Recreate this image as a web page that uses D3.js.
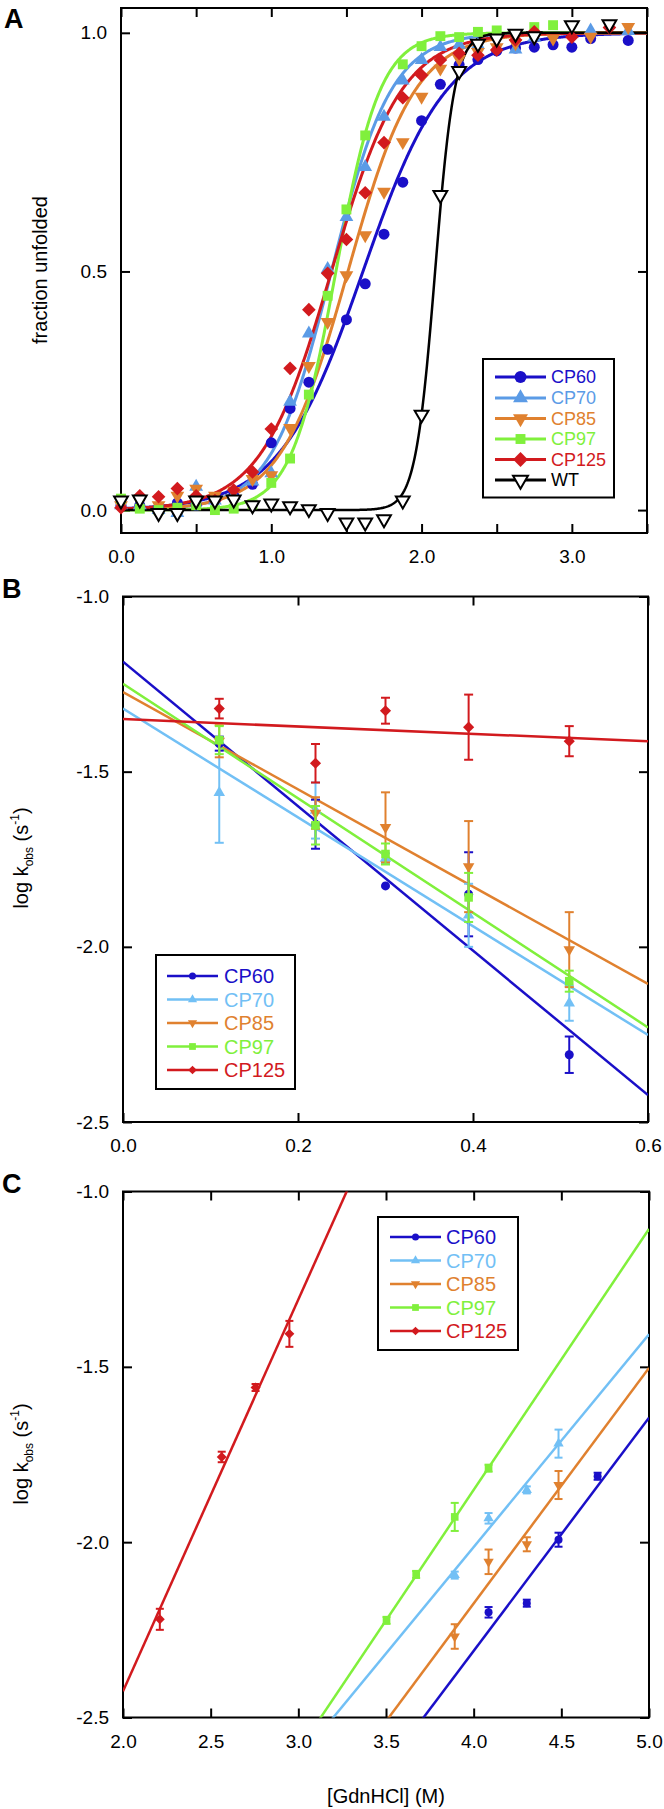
<!DOCTYPE html>
<html><head><meta charset="utf-8">
<script src="https://cdn.jsdelivr.net/npm/d3@7"></script>
<style>
body{margin:0;background:#fff}
svg{display:block}
text{font-family:"Liberation Sans",Arial,Helvetica,sans-serif}
</style>
</head><body>
<svg id="c" width="664" height="1809"></svg>
<script>
// ---------- shared ----------
const seriesNames = ["CP60","CP70","CP85","CP97","CP125","WT"];
const colorsA  = ["#1a0fc8","#5b9be6","#e0812f","#80f03c","#d21a1e","#000000"];
const colorsBC = ["#1a0fc8","#72c0f5","#e0812f","#80f03c","#d21a1e"];
const symbolTypes = ["circle","triUp","triDown","square","diamond","triDownOpen"];

// ---------- Panel A: fraction unfolded vs [GdnHCl] ----------
const gridA = [0,0.125,0.25,0.375,0.5,0.625,0.75,0.875,1.0,1.125,1.25,1.375,1.5,1.625,1.75,1.875,2.0,2.125,2.25,2.375,2.5,2.625,2.75,2.875,3.0,3.125,3.25,3.375];
const aCP60  = [0.01,0.01,0.005,0.015,0.01,0.02,0.03,0.054,0.141,0.213,0.268,0.337,0.399,0.474,0.578,0.687,0.816,0.892,0.933,0.944,0.962,0.968,0.970,0.975,0.970,0.988,null,0.984];
const aCP70  = [0.01,0.01,0.0,-0.006,0.049,0.02,0.03,0.06,0.077,0.227,0.37,0.505,0.614,0.719,0.824,0.90,0.943,0.97,0.975,0.975,null,0.965,0.99,null,null,1.005,null,1.004];
const aCP85  = [0.01,0.02,0.01,0.03,0.045,0.03,0.04,0.065,0.073,0.172,0.302,0.394,0.492,0.576,0.667,0.771,0.866,0.925,0.945,0.96,0.97,0.978,0.99,0.988,null,0.992,null,1.012];
const aCP97  = [0.024,0.003,0.0,0.005,0.01,0.0,0.003,0.012,0.057,0.108,0.242,0.449,0.63,0.785,null,0.934,0.972,0.993,0.991,1.002,1.005,null,1.012,1.016,null,null,null,null];
const aCP125 = [0.005,0.03,0.028,0.045,0.03,0.02,0.042,0.08,0.17,0.297,0.42,0.496,0.567,0.665,0.77,0.864,0.911,0.943,0.957,0.953,0.964,0.985,1.002,null,0.991,null,1.011,null];
const aWT    = [0.02,0.022,-0.006,-0.006,0.02,0.02,0.022,0.01,0.014,0.008,0.002,-0.006,-0.026,-0.026,-0.019,0.02,0.2,0.66,0.92,0.977,0.988,0.998,0.993,null,1.016,null,1.018,null];
const aSeries = [aCP60,aCP70,aCP85,aCP97,aCP125,aWT];
// two-state fit parameters (midpoint, width) of the fitted curves
const fitMidA   = [1.61,1.40,1.51,1.43,1.40,2.09];
const fitWidthA = [0.28,0.20,0.225,0.148,0.235,0.065];
const aXTicks = [0,0.5,1,1.5,2,2.5,3,3.5];
const aXLabels = [0,1,2,3];
const aYTicks = [0,0.5,1];

// ---------- Panel B: log kobs vs low [GdnHCl] ----------
const xB = [0.11,0.22,0.30,0.395,0.51];
const bCP60  = [-1.42,-1.65,-1.826,-1.85,-2.308];
const bCP70  = [-1.56,-1.611,-1.748,-1.91,-2.161];
const bCP85  = [-1.413,-1.618,-1.659,-1.771,-2.008];
const bCP97  = [-1.41,-1.653,-1.735,-1.859,-2.098];
const bCP125 = [-1.32,-1.476,-1.326,-1.373,-1.413];
const eCP60  = [0.02,0.07,0,0.12,0.052];
const eCP70  = [0.143,0.08,0.015,0.09,0.05];
const eCP85  = [0.046,0.045,0.1,0.13,0.107];
const eCP97  = [0.04,0.055,0.03,0.07,0.03];
const eCP125 = [0.028,0.055,0.037,0.093,0.043];
const bSeries = [bCP60,bCP70,bCP85,bCP97,bCP125];
const bErr = [eCP60,eCP70,eCP85,eCP97,eCP125];
const bIntercept = [-1.186,-1.32,-1.273,-1.249,-1.35];
const bSlope     = [-2.062,-1.553,-1.388,-1.635,-0.105];
const bXTicks = [0,0.2,0.4,0.6];
const bYTicks = [-2.5,-2.0,-1.5,-1.0];

// ---------- Panel C: log kobs vs high [GdnHCl] ----------
const cX60 = [4.085,4.303,4.484,4.707],  cCP60 = [-2.2,-2.174,-1.993,-1.812],  ceCP60 = [0.015,0.01,0.02,0.01];
const cX70 = [3.892,4.085,4.303,4.484],  cCP70 = [-2.094,-1.932,-1.851,-1.719], ceCP70 = [0.01,0.015,0.01,0.04];
const cX85 = [3.892,4.085,4.303,4.484],  cCP85 = [-2.269,-2.056,-2.006,-1.837], ceCP85 = [0.035,0.035,0.02,0.04];
const cX97 = [3.503,3.672,3.892,4.085],  cCP97 = [-2.223,-2.092,-1.928,-1.789], ceCP97 = [0.01,0.01,0.04,0.01];
const cX125 = [2.21,2.563,2.756,2.949],  cCP125 = [-2.22,-1.757,-1.559,-1.406], ceCP125 = [0.03,0.015,0.01,0.037];
const cXs = [cX60,cX70,cX85,cX97,cX125];
const cSeries = [cCP60,cCP70,cCP85,cCP97,cCP125];
const cErr = [ceCP60,ceCP70,ceCP85,ceCP97,ceCP125];
const cIntercept = [-4.970,-4.442,-4.863,-4.827,-4.659];
const cSlope     = [0.665,0.607,0.672,0.744,1.117];
const cXTicks = [2.0,2.5,3.0,3.5,4.0,4.5,5.0];
const cYTicks = [-2.5,-2.0,-1.5,-1.0];

// ---------- drawing helpers ----------
const svg = d3.select("#c");

function symbol(g, type, cx, cy, s, color) {
  if (type === "circle") {
    g.append("circle").attr("cx",cx).attr("cy",cy).attr("r",s*0.5).attr("fill",color);
  } else if (type === "square") {
    g.append("rect").attr("x",cx-s*0.45).attr("y",cy-s*0.45).attr("width",s*0.9).attr("height",s*0.9).attr("fill",color);
  } else if (type === "diamond") {
    const r = s*0.62;
    g.append("path").attr("d",`M${cx},${cy-r}L${cx+r},${cy}L${cx},${cy+r}L${cx-r},${cy}Z`).attr("fill",color);
  } else {
    const side = s*1.15, h = side*Math.sqrt(3)/2;
    const up = type === "triUp";
    const d = up
      ? `M${cx},${cy-h*2/3}L${cx+side/2},${cy+h/3}L${cx-side/2},${cy+h/3}Z`
      : `M${cx},${cy+h*2/3}L${cx+side/2},${cy-h/3}L${cx-side/2},${cy-h/3}Z`;
    const p = g.append("path").attr("d",d);
    if (type === "triDownOpen") p.attr("fill","#fff").attr("stroke","#000").attr("stroke-width",2).attr("stroke-linejoin","miter");
    else p.attr("fill",color);
  }
}

function makePanel(cfg) {
  const x = d3.scaleLinear().domain(cfg.xDomain).range([cfg.left, cfg.right]);
  const y = d3.scaleLinear().domain(cfg.yDomain).range([cfg.bottom, cfg.top]);
  const fmt = d => d.toFixed(1);
  const isLab = (arr, d) => arr.some(v => Math.abs(v - d) < 1e-9);
  const ax = svg.append("g");
  const bx = ax.append("g").attr("transform",`translate(0,${cfg.bottom})`)
    .call(d3.axisBottom(x).tickValues(cfg.xTicks).tickSize(-9).tickPadding(17)
      .tickFormat(d => isLab(cfg.xLabels, d) ? fmt(d) : ""));
  const tx = ax.append("g").attr("transform",`translate(0,${cfg.top})`)
    .call(d3.axisTop(x).tickValues(cfg.xTicks).tickSize(-9).tickFormat(""));
  const ly = ax.append("g").attr("transform",`translate(${cfg.left},0)`)
    .call(d3.axisLeft(y).tickValues(cfg.yTicks).tickSize(-9).tickPadding(14)
      .tickFormat(d => isLab(cfg.yLabels, d) ? fmt(d) : ""));
  const ry = ax.append("g").attr("transform",`translate(${cfg.right},0)`)
    .call(d3.axisRight(y).tickValues(cfg.yTicks).tickSize(-9).tickFormat(""));
  [bx,tx,ly,ry].forEach(a => {
    a.select(".domain").remove();
    a.selectAll(".tick line").attr("stroke","#000").attr("stroke-width",2);
    a.selectAll(".tick text").attr("font-size",19).attr("fill","#000")
      .style("font-family",'"Liberation Sans",Arial,sans-serif');
  });
  svg.append("rect").attr("x",cfg.left).attr("y",cfg.top)
    .attr("width",cfg.right-cfg.left).attr("height",cfg.bottom-cfg.top)
    .attr("fill","none").attr("stroke","#000").attr("stroke-width",2);
  const clipId = "clip" + cfg.id;
  svg.append("clipPath").attr("id",clipId).append("rect")
    .attr("x",cfg.left).attr("y",cfg.top).attr("width",cfg.right-cfg.left).attr("height",cfg.bottom-cfg.top);
  const plot = svg.append("g").attr("clip-path",`url(#${clipId})`);
  const marks = svg.append("g");
  // panel letter
  svg.append("text").attr("x",cfg.letterX).attr("y",cfg.letterY).attr("font-size",27)
    .attr("font-weight","bold").text(cfg.letter);
  return {x, y, plot, marks};
}

function legend(cfg) {
  const g = svg.append("g");
  g.append("rect").attr("x",cfg.x0).attr("y",cfg.y0).attr("width",cfg.x1-cfg.x0).attr("height",cfg.y1-cfg.y0)
    .attr("fill","#fff").attr("stroke","#000").attr("stroke-width",2);
  cfg.names.forEach((n,i) => {
    const yy = cfg.rowY[i];
    g.append("line").attr("x1",cfg.lx0).attr("x2",cfg.lx1).attr("y1",yy).attr("y2",yy)
      .attr("stroke",cfg.colors[i]).attr("stroke-width",cfg.lw);
    symbol(g, symbolTypes[i], (cfg.lx0+cfg.lx1)/2, yy, cfg.ms[i], cfg.colors[i]);
    g.append("text").attr("x",cfg.tx).attr("y",yy).attr("dy","0.36em").attr("font-size",cfg.fs)
      .attr("fill",cfg.colors[i]).text(n);
  });
}

function errorBar(g, x, y, xv, v, e, color, cap) {
  if (!e) return;
  g.append("line").attr("x1",x(xv)).attr("x2",x(xv)).attr("y1",y(v-e)).attr("y2",y(v+e))
    .attr("stroke",color).attr("stroke-width",2);
  [v-e, v+e].forEach(t => g.append("line").attr("x1",x(xv)-cap).attr("x2",x(xv)+cap)
    .attr("y1",y(t)).attr("y2",y(t)).attr("stroke",color).attr("stroke-width",2));
}

// ---------- Panel A ----------
{
  const P = makePanel({id:"A", left:121, right:647, top:8, bottom:533,
    xDomain:[0,3.5], yDomain:[-0.048,1.052], xTicks:aXTicks, xLabels:aXLabels,
    yTicks:aYTicks, yLabels:aYTicks, letter:"A", letterX:4, letterY:28});
  const xs = d3.range(0, 3.5001, 0.005);
  aSeries.forEach((s,i) => {
    const line = d3.line().x(d => P.x(d)).y(d => P.y(1/(1+Math.exp(-(d-fitMidA[i])/fitWidthA[i])))).curve(d3.curveLinear);
    P.plot.append("path").attr("d",line(xs)).attr("fill","none")
      .attr("stroke",colorsA[i]).attr("stroke-width",i===5?2.5:3);
  });
  const msA = [11,12,12,11,11,12];
  aSeries.forEach((s,i) => {
    gridA.forEach((gx,k) => { if (s[k] !== null) symbol(P.marks, symbolTypes[i], P.x(gx), P.y(s[k]), msA[i], colorsA[i]); });
  });
  svg.append("text").attr("transform","translate(47,270) rotate(-90)").attr("text-anchor","middle")
    .attr("font-size",20).text("fraction unfolded");
  legend({x0:483,x1:614,y0:359,y1:497.5,lx0:495,lx1:546,tx:551,
    rowY:[377,398,418.5,439,459.5,480],names:seriesNames,colors:colorsA,fs:18,lw:3,ms:[12,13,13,11,12,13]});
}

function ylabel(cx, cy) {
  const t = svg.append("text").attr("transform",`translate(${cx},${cy}) rotate(-90)`)
    .attr("text-anchor","middle").attr("font-size",20);
  t.append("tspan").text("log k");
  t.append("tspan").attr("font-size",12).attr("dy",5).text("obs");
  t.append("tspan").attr("dy",-5).text(" (s");
  t.append("tspan").attr("font-size",12).attr("dy",-9).text("-1");
  t.append("tspan").attr("dy",9).text(")");
}

// ---------- Panel B ----------
{
  const P = makePanel({id:"B", left:123, right:648, top:596.5, bottom:1122,
    xDomain:[0,0.6], yDomain:[-2.5,-1.0], xTicks:bXTicks, xLabels:bXTicks,
    yTicks:bYTicks, yLabels:bYTicks, letter:"B", letterX:2, letterY:598});
  bSeries.forEach((s,i) => {
    P.plot.append("line").attr("x1",P.x(0)).attr("x2",P.x(0.6))
      .attr("y1",P.y(bIntercept[i])).attr("y2",P.y(bIntercept[i]+bSlope[i]*0.6))
      .attr("stroke",colorsBC[i]).attr("stroke-width",2.5);
  });
  const msB = [9,10,10,9.5,9];
  bSeries.forEach((s,i) => {
    s.forEach((v,k) => {
      errorBar(P.marks, P.x, P.y, xB[k], v, bErr[i][k], colorsBC[i], 4.5);
      symbol(P.marks, symbolTypes[i], P.x(xB[k]), P.y(v), msB[i], colorsBC[i]);
    });
  });
  ylabel(28, 858);
  legend({x0:156,x1:295,y0:955,y1:1089,lx0:167,lx1:218,tx:224,
    rowY:[976,999.5,1023,1046.5,1070],names:seriesNames.slice(0,5),colors:colorsBC,fs:20,lw:2.5,ms:[7,8,8,7.5,7]});
}

// ---------- Panel C ----------
{
  const P = makePanel({id:"C", left:123, right:649, top:1191.5, bottom:1717.5,
    xDomain:[2.0,5.0], yDomain:[-2.5,-1.0], xTicks:cXTicks, xLabels:cXTicks,
    yTicks:cYTicks, yLabels:cYTicks, letter:"C", letterX:2, letterY:1193});
  cSeries.forEach((s,i) => {
    P.plot.append("line").attr("x1",P.x(2.0)).attr("x2",P.x(5.0))
      .attr("y1",P.y(cIntercept[i]+cSlope[i]*2.0)).attr("y2",P.y(cIntercept[i]+cSlope[i]*5.0))
      .attr("stroke",colorsBC[i]).attr("stroke-width",2.5);
  });
  const msC = [8,9,9,8.5,8];
  cSeries.forEach((s,i) => {
    s.forEach((v,k) => {
      errorBar(P.marks, P.x, P.y, cXs[i][k], v, cErr[i][k], colorsBC[i], 4);
      symbol(P.marks, symbolTypes[i], P.x(cXs[i][k]), P.y(v), msC[i], colorsBC[i]);
    });
  });
  ylabel(28, 1454);
  svg.append("text").attr("x",386).attr("y",1803).attr("text-anchor","middle").attr("font-size",20).text("[GdnHCl] (M)");
  legend({x0:378,x1:518,y0:1217,y1:1350,lx0:390,lx1:441,tx:446,
    rowY:[1237,1260.5,1284,1307.5,1331],names:seriesNames.slice(0,5),colors:colorsBC,fs:20,lw:2.5,ms:[7,8,8,7.5,7]});
}
</script>
</body></html>
